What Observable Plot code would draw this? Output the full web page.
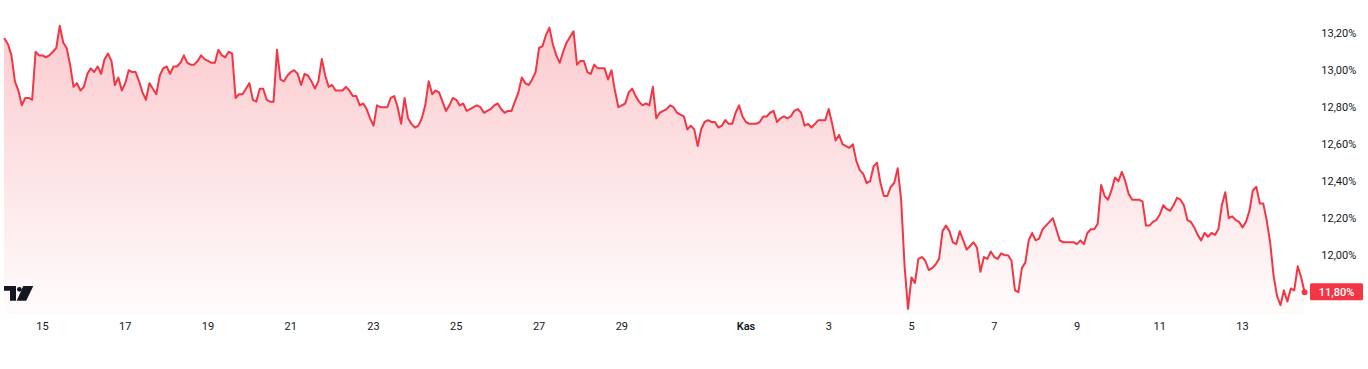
<!DOCTYPE html>
<html>
<head>
<meta charset="utf-8">
<script src="https://cdn.jsdelivr.net/npm/d3@7"></script>
<script src="https://cdn.jsdelivr.net/npm/@observablehq/plot@0.6"></script>
<style>
  html, body { margin: 0; padding: 0; background: #ffffff; }
  #chart { position: relative; width: 1368px; height: 369px; overflow: hidden; }
  #logo { position: absolute; left: 4px; top: 286px; }
</style>
</head>
<body>
<div id="chart"></div>
<script>
// ---- data ----
const startTime = "2024-10-14T02:00:00Z";   // first sample
const stepHours = 2;                         // sampling interval
// yield in basis points (hundredths of a percent)
const yieldBp = [
  1317, 1314, 1308, 1294, 1289, 1281, 1285, 1285, 1284, 1310,
  1308, 1308, 1307, 1308, 1310, 1312, 1324, 1315, 1312, 1303,
  1291, 1293, 1289, 1291, 1298, 1301, 1299, 1302, 1298, 1306,
  1309, 1305, 1292, 1296, 1289, 1293, 1300, 1299, 1299, 1294,
  1288, 1284, 1293, 1290, 1287, 1297, 1301, 1302, 1298, 1302,
  1302, 1304, 1308, 1304, 1303, 1303, 1305, 1308, 1306, 1305,
  1304, 1304, 1311, 1308, 1307, 1310, 1309, 1285, 1287, 1287,
  1290, 1293, 1284, 1283, 1290, 1290, 1284, 1283, 1283, 1311,
  1295, 1294, 1297, 1299, 1300, 1298, 1292, 1298, 1297, 1294,
  1290, 1294, 1306, 1297, 1291, 1292, 1289, 1289, 1289, 1291,
  1289, 1286, 1286, 1281, 1282, 1279, 1274, 1270, 1281, 1280,
  1280, 1280, 1285, 1286, 1280, 1271, 1285, 1274, 1271, 1269,
  1270, 1274, 1281, 1294, 1287, 1289, 1288, 1283, 1278, 1281,
  1285, 1284, 1281, 1282, 1278, 1279, 1280, 1281, 1280, 1277,
  1278, 1279, 1281, 1282, 1279, 1277, 1278, 1278, 1283, 1288,
  1296, 1293, 1292, 1295, 1299, 1312, 1313, 1319, 1323, 1314,
  1308, 1304, 1310, 1315, 1318, 1321, 1303, 1305, 1305, 1299,
  1298, 1303, 1301, 1301, 1301, 1295, 1300, 1289, 1280, 1281,
  1282, 1288, 1290, 1286, 1283, 1281, 1282, 1281, 1291, 1274,
  1277, 1278, 1279, 1281, 1280, 1277, 1276, 1275, 1268, 1270,
  1268, 1259, 1268, 1272, 1273, 1272, 1272, 1269, 1270, 1273,
  1271, 1271, 1277, 1281, 1275, 1272, 1271, 1271, 1271, 1272,
  1275, 1275, 1277, 1278, 1272, 1274, 1275, 1274, 1275, 1278,
  1279, 1277, 1270, 1271, 1269, 1271, 1273, 1273, 1273, 1279,
  1271, 1262, 1265, 1260, 1259, 1258, 1260, 1251, 1246, 1244,
  1239, 1240, 1248, 1250, 1239, 1232, 1232, 1237, 1239, 1247,
  1230, 1194, 1171, 1188, 1185, 1198, 1199, 1197, 1192, 1193,
  1195, 1198, 1213, 1216, 1213, 1207, 1206, 1213, 1208, 1203,
  1205, 1207, 1204, 1191, 1199, 1198, 1202, 1199, 1198, 1201,
  1200, 1200, 1197, 1181, 1180, 1193, 1196, 1208, 1212, 1208,
  1209, 1214, 1216, 1218, 1220, 1214, 1208, 1207, 1207, 1207,
  1207, 1206, 1208, 1206, 1212, 1214, 1214, 1217, 1238, 1232,
  1230, 1235, 1242, 1240, 1245, 1240, 1233, 1230, 1230, 1230,
  1229, 1216, 1216, 1218, 1219, 1222, 1227, 1225, 1224, 1227,
  1231, 1230, 1227, 1219, 1218, 1215, 1211, 1208, 1212, 1210,
  1212, 1211, 1214, 1227, 1234, 1220, 1221, 1219, 1218, 1215,
  1218, 1224, 1235, 1237, 1228, 1228, 1219, 1207, 1189, 1178,
  1173, 1181, 1175, 1182, 1181, 1194, 1188, 1180
];

// axis labels
const dayTickDates  = ["2024-10-15","2024-10-17","2024-10-19","2024-10-21","2024-10-23","2024-10-25","2024-10-27","2024-10-29",
                       "2024-11-03","2024-11-05","2024-11-07","2024-11-09","2024-11-11","2024-11-13"];
const dayTickLabels = ["15","17","19","21","23","25","27","29","3","5","7","9","11","13"];
const monthTickDates  = ["2024-11-01"];
const monthTickLabels = ["Kas"];
const yTicks = [12.0, 12.2, 12.4, 12.6, 12.8, 13.0, 13.2];

// ---- build ----
const t0 = new Date(startTime).getTime();
const data = yieldBp.map((bp, i) => ({ date: new Date(t0 + i * stepHours * 3600e3), value: bp / 100 }));
const last = data[data.length - 1];
const fmtPct = v => v.toFixed(2).replace(".", ",") + "%";

const RED = "#F23645";
const TEXT = "#131722";
const FONT = "Roboto, 'Liberation Sans', sans-serif";
const yMin = 11.68, yMax = 13.30;

const chart = Plot.plot({
  width: 1368,
  height: 369,
  marginLeft: 0.62,
  marginRight: 43.2,
  marginTop: 14.2,
  marginBottom: 55.1,
  style: { fontFamily: FONT, fontSize: "11px", color: TEXT, background: "#ffffff", overflow: "visible" },
  x: { type: "utc", label: null, domain: [new Date("2024-10-14T00:00:00Z"), new Date("2024-11-15T00:00:00Z")] },
  y: { label: null, domain: [yMin, yMax] },
  marks: [
    Plot.areaY(data, { x: "date", y1: yMin, y2: "value", fill: "url(#areaGrad)" }),
    Plot.lineY(data, { x: "date", y: "value", stroke: RED, strokeWidth: 2, strokeLinejoin: "round" }),
    Plot.dot([last], { x: "date", y: "value", r: 3, fill: RED }),
    Plot.axisX(dayTickDates.map(d => new Date(d + "T00:00:00Z")), {
      label: null, tickSize: 0, tickPadding: 8, fontSize: 11, fill: TEXT,
      tickFormat: (d, i) => dayTickLabels[i]
    }),
    Plot.axisX(monthTickDates.map(d => new Date(d + "T00:00:00Z")), {
      label: null, tickSize: 0, tickPadding: 8, fontSize: 11, fill: TEXT, fontWeight: 600,
      tickFormat: (d, i) => monthTickLabels[i]
    }),
    Plot.axisY(yTicks, {
      label: null, anchor: "right", tickSize: 0, tickPadding: 0, dx: -4, fontSize: 11, fill: TEXT,
      tickFormat: fmtPct
    })
  ]
});

// gradient fill for the area
const svg = d3.select(chart);
const grad = svg.insert("defs", ":first-child")
  .append("linearGradient").attr("id", "areaGrad")
  .attr("x1", 0).attr("y1", 0).attr("x2", 0).attr("y2", 1);
grad.append("stop").attr("offset", 0).attr("stop-color", RED).attr("stop-opacity", 0.26);
grad.append("stop").attr("offset", 1).attr("stop-color", RED).attr("stop-opacity", 0.015);

// last-value label on the price axis, positioned through Plot's y scale
const yPos = chart.scale("y").apply(last.value);
const boxLeft = 1310, boxWidth = 53, boxHeight = 17;
const lab = svg.append("g");
lab.append("rect")
  .attr("x", boxLeft).attr("y", yPos - boxHeight / 2)
  .attr("width", boxWidth).attr("height", boxHeight).attr("rx", 1.5)
  .attr("fill", RED);
lab.append("text")
  .attr("x", boxLeft + boxWidth / 2).attr("y", yPos).attr("dy", "0.35em")
  .attr("text-anchor", "middle").attr("fill", "#ffffff")
  .attr("font-family", FONT).attr("font-size", 11).attr("font-weight", 500)
  .text(fmtPct(last.value));

document.getElementById("chart").appendChild(chart);

// TradingView-style logo
const logo = document.createElementNS("http://www.w3.org/2000/svg", "svg");
logo.setAttribute("id", "logo");
logo.setAttribute("width", "30");
logo.setAttribute("height", "15");
logo.innerHTML = '<path d="M0 0H12V14.7H6V4.7H0Z" fill="#131722"/>' +
                 '<circle cx="15.4" cy="3.3" r="2.4" fill="#131722"/>' +
                 '<path d="M19.3 0H29.3L22.2 14.7H12.7Z" fill="#131722"/>';
document.getElementById("chart").appendChild(logo);
</script>
</body>
</html>
